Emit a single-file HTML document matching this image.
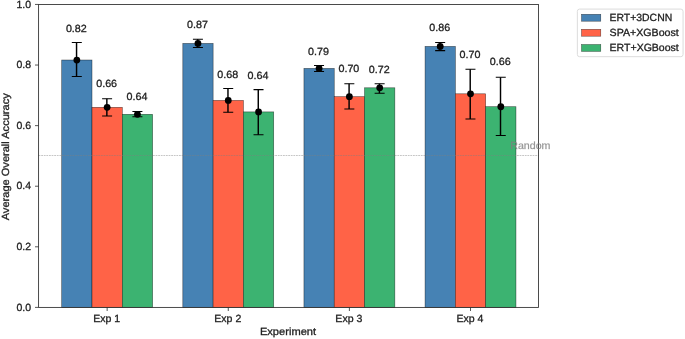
<!DOCTYPE html>
<html><head><meta charset="utf-8"><title>chart</title>
<style>html,body{margin:0;padding:0;background:#fff;}svg{display:block;}text{font-family:"Liberation Sans",sans-serif;text-rendering:geometricPrecision;}</style></head>
<body>
<svg width="685" height="339" viewBox="0 0 685 339">
<rect x="0" y="0" width="685" height="339" fill="#ffffff"/>
<rect x="61.70" y="60.00" width="30.30" height="247.40" fill="#4682B4" stroke="#000" stroke-opacity="0.6" stroke-width="0.6"/>
<rect x="92.00" y="107.30" width="30.30" height="200.10" fill="#FF6347" stroke="#000" stroke-opacity="0.6" stroke-width="0.6"/>
<rect x="122.30" y="114.30" width="30.30" height="193.10" fill="#3CB371" stroke="#000" stroke-opacity="0.6" stroke-width="0.6"/>
<rect x="182.82" y="43.40" width="30.30" height="264.00" fill="#4682B4" stroke="#000" stroke-opacity="0.6" stroke-width="0.6"/>
<rect x="213.12" y="100.40" width="30.30" height="207.00" fill="#FF6347" stroke="#000" stroke-opacity="0.6" stroke-width="0.6"/>
<rect x="243.42" y="111.90" width="30.30" height="195.50" fill="#3CB371" stroke="#000" stroke-opacity="0.6" stroke-width="0.6"/>
<rect x="303.94" y="68.40" width="30.30" height="239.00" fill="#4682B4" stroke="#000" stroke-opacity="0.6" stroke-width="0.6"/>
<rect x="334.24" y="96.65" width="30.30" height="210.75" fill="#FF6347" stroke="#000" stroke-opacity="0.6" stroke-width="0.6"/>
<rect x="364.54" y="87.80" width="30.30" height="219.60" fill="#3CB371" stroke="#000" stroke-opacity="0.6" stroke-width="0.6"/>
<rect x="425.06" y="46.40" width="30.30" height="261.00" fill="#4682B4" stroke="#000" stroke-opacity="0.6" stroke-width="0.6"/>
<rect x="455.36" y="93.80" width="30.30" height="213.60" fill="#FF6347" stroke="#000" stroke-opacity="0.6" stroke-width="0.6"/>
<rect x="485.66" y="106.70" width="30.30" height="200.70" fill="#3CB371" stroke="#000" stroke-opacity="0.6" stroke-width="0.6"/>
<line x1="38.6" y1="155.50" x2="538.5" y2="155.50" stroke="#808080" stroke-opacity="0.6" stroke-width="0.75" stroke-dasharray="1.8,0.8"/>
<line x1="76.55" y1="42.50" x2="76.55" y2="76.50" stroke="#000" stroke-width="1.45"/>
<path d="M71.80 42.50H81.80M71.80 76.50H81.80" stroke="#000" stroke-width="1.05" fill="none"/>
<circle cx="76.85" cy="60.05" r="3.4" fill="#000"/>
<line x1="106.85" y1="98.70" x2="106.85" y2="116.00" stroke="#000" stroke-width="1.45"/>
<path d="M102.10 98.70H112.10M102.10 116.00H112.10" stroke="#000" stroke-width="1.05" fill="none"/>
<circle cx="107.15" cy="107.35" r="3.4" fill="#000"/>
<line x1="137.15" y1="111.50" x2="137.15" y2="116.80" stroke="#000" stroke-width="1.45"/>
<path d="M132.40 111.50H142.40M132.40 116.80H142.40" stroke="#000" stroke-width="1.05" fill="none"/>
<circle cx="137.45" cy="114.35" r="3.4" fill="#000"/>
<line x1="197.67" y1="39.15" x2="197.67" y2="47.55" stroke="#000" stroke-width="1.45"/>
<path d="M192.92 39.15H202.92M192.92 47.55H202.92" stroke="#000" stroke-width="1.05" fill="none"/>
<circle cx="197.97" cy="43.45" r="3.4" fill="#000"/>
<line x1="227.97" y1="88.50" x2="227.97" y2="112.30" stroke="#000" stroke-width="1.45"/>
<path d="M223.22 88.50H233.22M223.22 112.30H233.22" stroke="#000" stroke-width="1.05" fill="none"/>
<circle cx="228.27" cy="100.45" r="3.4" fill="#000"/>
<line x1="258.27" y1="89.60" x2="258.27" y2="134.70" stroke="#000" stroke-width="1.45"/>
<path d="M253.52 89.60H263.52M253.52 134.70H263.52" stroke="#000" stroke-width="1.05" fill="none"/>
<circle cx="258.57" cy="111.95" r="3.4" fill="#000"/>
<line x1="318.79" y1="65.50" x2="318.79" y2="71.40" stroke="#000" stroke-width="1.45"/>
<path d="M314.04 65.50H324.04M314.04 71.40H324.04" stroke="#000" stroke-width="1.05" fill="none"/>
<circle cx="319.09" cy="68.45" r="3.4" fill="#000"/>
<line x1="349.09" y1="83.70" x2="349.09" y2="108.90" stroke="#000" stroke-width="1.45"/>
<path d="M344.34 83.70H354.34M344.34 108.90H354.34" stroke="#000" stroke-width="1.05" fill="none"/>
<circle cx="349.39" cy="96.70" r="3.4" fill="#000"/>
<line x1="379.39" y1="83.70" x2="379.39" y2="93.20" stroke="#000" stroke-width="1.45"/>
<path d="M374.64 83.70H384.64M374.64 93.20H384.64" stroke="#000" stroke-width="1.05" fill="none"/>
<circle cx="379.69" cy="87.85" r="3.4" fill="#000"/>
<line x1="439.91" y1="42.55" x2="439.91" y2="50.60" stroke="#000" stroke-width="1.45"/>
<path d="M435.16 42.55H445.16M435.16 50.60H445.16" stroke="#000" stroke-width="1.05" fill="none"/>
<circle cx="440.21" cy="46.45" r="3.4" fill="#000"/>
<line x1="470.21" y1="69.30" x2="470.21" y2="118.90" stroke="#000" stroke-width="1.45"/>
<path d="M465.46 69.30H475.46M465.46 118.90H475.46" stroke="#000" stroke-width="1.05" fill="none"/>
<circle cx="470.51" cy="93.85" r="3.4" fill="#000"/>
<line x1="500.51" y1="77.30" x2="500.51" y2="135.40" stroke="#000" stroke-width="1.45"/>
<path d="M495.76 77.30H505.76M495.76 135.40H505.76" stroke="#000" stroke-width="1.05" fill="none"/>
<circle cx="500.81" cy="106.75" r="3.4" fill="#000"/>
<rect x="38.6" y="4.45" width="499.90" height="302.95" fill="none" stroke="#2c2c2c" stroke-width="0.85"/>
<line x1="35.00" y1="307.40" x2="38.6" y2="307.40" stroke="#2c2c2c" stroke-width="0.8"/>
<line x1="35.00" y1="246.81" x2="38.6" y2="246.81" stroke="#2c2c2c" stroke-width="0.8"/>
<line x1="35.00" y1="186.22" x2="38.6" y2="186.22" stroke="#2c2c2c" stroke-width="0.8"/>
<line x1="35.00" y1="125.63" x2="38.6" y2="125.63" stroke="#2c2c2c" stroke-width="0.8"/>
<line x1="35.00" y1="65.04" x2="38.6" y2="65.04" stroke="#2c2c2c" stroke-width="0.8"/>
<line x1="35.00" y1="4.45" x2="38.6" y2="4.45" stroke="#2c2c2c" stroke-width="0.8"/>
<line x1="107.15" y1="307.4" x2="107.15" y2="311.0" stroke="#2c2c2c" stroke-width="0.8"/>
<line x1="228.27" y1="307.4" x2="228.27" y2="311.0" stroke="#2c2c2c" stroke-width="0.8"/>
<line x1="349.39" y1="307.4" x2="349.39" y2="311.0" stroke="#2c2c2c" stroke-width="0.8"/>
<line x1="470.51" y1="307.4" x2="470.51" y2="311.0" stroke="#2c2c2c" stroke-width="0.8"/>
<rect x="577.35" y="9.1" width="105.7" height="47.6" rx="2.2" ry="2.2" fill="#fff" fill-opacity="0.8" stroke="#d8d8d8" stroke-width="0.9"/>
<rect x="581.5" y="14.3" width="19.3" height="6.9" fill="#4682B4" stroke="#000" stroke-opacity="0.65" stroke-width="0.5"/>
<rect x="581.5" y="29.3" width="19.3" height="6.9" fill="#FF6347" stroke="#000" stroke-opacity="0.65" stroke-width="0.5"/>
<rect x="581.5" y="44.5" width="19.3" height="6.9" fill="#3CB371" stroke="#000" stroke-opacity="0.65" stroke-width="0.5"/>
<g style="filter:grayscale(1)">
<text x="76.35" y="31.60" font-size="10.4" text-anchor="middle" fill="#222" stroke="#222" stroke-width="0.3" textLength="20.9" lengthAdjust="spacingAndGlyphs">0.82</text>
<text x="106.65" y="86.80" font-size="10.4" text-anchor="middle" fill="#222" stroke="#222" stroke-width="0.3" textLength="20.9" lengthAdjust="spacingAndGlyphs">0.66</text>
<text x="136.95" y="99.70" font-size="10.4" text-anchor="middle" fill="#222" stroke="#222" stroke-width="0.3" textLength="20.9" lengthAdjust="spacingAndGlyphs">0.64</text>
<text x="197.47" y="27.70" font-size="10.4" text-anchor="middle" fill="#222" stroke="#222" stroke-width="0.3" textLength="20.9" lengthAdjust="spacingAndGlyphs">0.87</text>
<text x="227.77" y="77.80" font-size="10.4" text-anchor="middle" fill="#222" stroke="#222" stroke-width="0.3" textLength="20.9" lengthAdjust="spacingAndGlyphs">0.68</text>
<text x="258.07" y="78.60" font-size="10.4" text-anchor="middle" fill="#222" stroke="#222" stroke-width="0.3" textLength="20.9" lengthAdjust="spacingAndGlyphs">0.64</text>
<text x="318.59" y="55.00" font-size="10.4" text-anchor="middle" fill="#222" stroke="#222" stroke-width="0.3" textLength="20.9" lengthAdjust="spacingAndGlyphs">0.79</text>
<text x="348.89" y="72.10" font-size="10.4" text-anchor="middle" fill="#222" stroke="#222" stroke-width="0.3" textLength="20.9" lengthAdjust="spacingAndGlyphs">0.70</text>
<text x="379.19" y="72.50" font-size="10.4" text-anchor="middle" fill="#222" stroke="#222" stroke-width="0.3" textLength="20.9" lengthAdjust="spacingAndGlyphs">0.72</text>
<text x="439.71" y="30.90" font-size="10.4" text-anchor="middle" fill="#222" stroke="#222" stroke-width="0.3" textLength="20.9" lengthAdjust="spacingAndGlyphs">0.86</text>
<text x="470.01" y="58.10" font-size="10.4" text-anchor="middle" fill="#222" stroke="#222" stroke-width="0.3" textLength="20.9" lengthAdjust="spacingAndGlyphs">0.70</text>
<text x="500.31" y="65.00" font-size="10.4" text-anchor="middle" fill="#222" stroke="#222" stroke-width="0.3" textLength="20.9" lengthAdjust="spacingAndGlyphs">0.66</text>
<text x="31.10" y="310.55" font-size="10.4" text-anchor="end" fill="#222" stroke="#222" stroke-width="0.3" textLength="14.6" lengthAdjust="spacingAndGlyphs">0.0</text>
<text x="31.10" y="249.96" font-size="10.4" text-anchor="end" fill="#222" stroke="#222" stroke-width="0.3" textLength="14.6" lengthAdjust="spacingAndGlyphs">0.2</text>
<text x="31.10" y="189.37" font-size="10.4" text-anchor="end" fill="#222" stroke="#222" stroke-width="0.3" textLength="14.6" lengthAdjust="spacingAndGlyphs">0.4</text>
<text x="31.10" y="128.78" font-size="10.4" text-anchor="end" fill="#222" stroke="#222" stroke-width="0.3" textLength="14.6" lengthAdjust="spacingAndGlyphs">0.6</text>
<text x="31.10" y="68.19" font-size="10.4" text-anchor="end" fill="#222" stroke="#222" stroke-width="0.3" textLength="14.6" lengthAdjust="spacingAndGlyphs">0.8</text>
<text x="31.10" y="7.60" font-size="10.4" text-anchor="end" fill="#222" stroke="#222" stroke-width="0.3" textLength="14.6" lengthAdjust="spacingAndGlyphs">1.0</text>
<text x="106.65" y="322.00" font-size="10.4" text-anchor="middle" fill="#222" stroke="#222" stroke-width="0.3" textLength="27.0" lengthAdjust="spacingAndGlyphs">Exp 1</text>
<text x="227.77" y="322.00" font-size="10.4" text-anchor="middle" fill="#222" stroke="#222" stroke-width="0.3" textLength="27.0" lengthAdjust="spacingAndGlyphs">Exp 2</text>
<text x="348.89" y="322.00" font-size="10.4" text-anchor="middle" fill="#222" stroke="#222" stroke-width="0.3" textLength="27.0" lengthAdjust="spacingAndGlyphs">Exp 3</text>
<text x="470.01" y="322.00" font-size="10.4" text-anchor="middle" fill="#222" stroke="#222" stroke-width="0.3" textLength="27.0" lengthAdjust="spacingAndGlyphs">Exp 4</text>
<text x="288.00" y="335.20" font-size="10.4" text-anchor="middle" fill="#222" stroke="#222" stroke-width="0.3" textLength="56.2" lengthAdjust="spacingAndGlyphs">Experiment</text>
<g transform="translate(9.0,156.8) rotate(-90)"><text x="0.00" y="0.00" font-size="10.4" text-anchor="middle" fill="#222" stroke="#222" stroke-width="0.3" textLength="127.0" lengthAdjust="spacingAndGlyphs">Average Overall Accuracy</text></g>
<text x="510.20" y="149.00" font-size="10.4" text-anchor="start" fill="#808080" stroke="#808080" stroke-width="0.3" textLength="40.3" lengthAdjust="spacingAndGlyphs" fill-opacity="0.8" stroke-opacity="0.5">Random</text>
<text x="609.60" y="21.00" font-size="10.4" text-anchor="start" fill="#222" stroke="#222" stroke-width="0.3" textLength="62.6" lengthAdjust="spacingAndGlyphs">ERT+3DCNN</text>
<text x="609.60" y="36.00" font-size="10.4" text-anchor="start" fill="#222" stroke="#222" stroke-width="0.3" textLength="69.2" lengthAdjust="spacingAndGlyphs">SPA+XGBoost</text>
<text x="609.60" y="51.00" font-size="10.4" text-anchor="start" fill="#222" stroke="#222" stroke-width="0.3" textLength="69.2" lengthAdjust="spacingAndGlyphs">ERT+XGBoost</text>
</g>
</svg></body></html>
